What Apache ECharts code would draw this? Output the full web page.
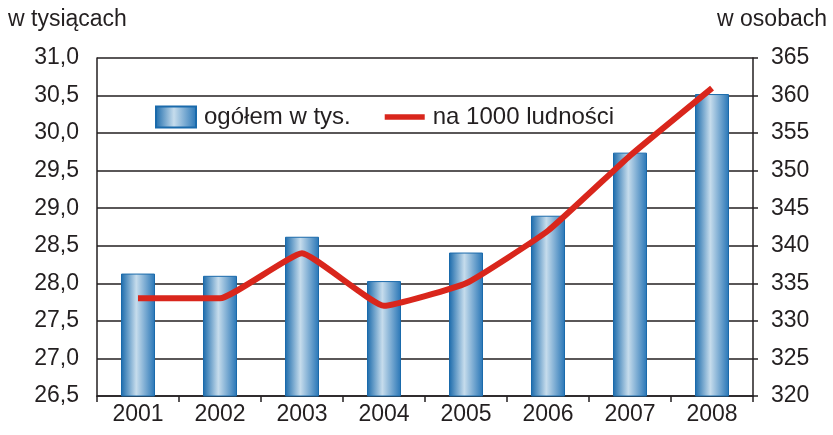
<!DOCTYPE html>
<html>
<head>
<meta charset="utf-8">
<script src="https://cdn.jsdelivr.net/npm/echarts@6/dist/echarts.min.js"></script>
<style>
  html, body { margin: 0; padding: 0; background: #fff; }
  #main { width: 833px; height: 435px; }
</style>
</head>
<body>
<div id="main"></div>
<script>
const years = ['2001', '2002', '2003', '2004', '2005', '2006', '2007', '2008'];
// ogółem w tysiącach (lewa oś)
const totalThousands = [28.13, 28.10, 28.62, 28.03, 28.41, 28.90, 29.74, 30.52];
// na 1000 ludności (prawa oś)
const per1000 = [333, 333, 339, 332, 335, 342, 352, 361];

const chart = echarts.init(document.querySelector('#main'));
const fontFamily = '"Liberation Sans", Arial, sans-serif';
const ink = '#231f20';
const fs = 23;

const barGradient = new echarts.graphic.LinearGradient(0, 0, 1, 0, [
    { offset: 0, color: '#1a6aab' },
    { offset: 0.45, color: '#c6dcec' },
    { offset: 1, color: '#2775b6' }
]);

const option = {
    animation: false,
    textStyle: { fontFamily: fontFamily },
    grid: { left: 97, right: 80, top: 58, bottom: 39 },
    graphic: [
        { type: 'text', left: 8, top: 8, style: { text: 'w tysiącach', font: fs + 'px ' + fontFamily, fill: ink } },
        { type: 'text', right: 6, top: 8, style: { text: 'w osobach', font: fs + 'px ' + fontFamily, fill: ink } }
    ],
    legend: {
        left: 150,
        top: 100,
        itemWidth: 40,
        itemHeight: 21,
        itemGap: 34,
        textStyle: { fontSize: 24, color: ink, fontFamily: fontFamily, padding: [0, 0, 0, 3] },
        data: [
            { name: 'ogółem w tys.', icon: 'rect' },
            { name: 'na 1000 ludności', icon: 'path://M0,0H42V6H0Z' }
        ]
    },
    xAxis: {
        type: 'category',
        data: years,
        axisLine: { lineStyle: { color: ink, width: 1.5 } },
        axisTick: { show: true, inside: false, length: 6, lineStyle: { color: ink, width: 1.5 } },
        axisLabel: { fontSize: fs, color: ink, margin: 7 }
    },
    yAxis: [
        {
            type: 'value',
            min: 26.5,
            max: 31,
            interval: 0.5,
            axisLine: { show: true, lineStyle: { color: ink, width: 1.5 } },
            axisTick: { show: false },
            axisLabel: {
                fontSize: fs, color: ink, margin: 18,
                formatter: v => v.toFixed(1).replace('.', ',')
            },
            splitLine: { lineStyle: { color: ink, width: 1.5 } }
        },
        {
            type: 'value',
            min: 320,
            max: 365,
            interval: 5,
            position: 'right',
            axisLine: { show: true, lineStyle: { color: ink, width: 1.5 } },
            axisTick: { show: true, length: 5, lineStyle: { color: ink, width: 1.5 } },
            axisLabel: { fontSize: fs, color: ink, margin: 18 },
            splitLine: { show: false }
        }
    ],
    series: [
        {
            name: 'ogółem w tys.',
            type: 'bar',
            data: totalThousands,
            barWidth: 34,
            itemStyle: { color: barGradient, borderColor: '#1a6aab', borderWidth: 1 }
        },
        {
            name: 'na 1000 ludności',
            type: 'line',
            yAxisIndex: 1,
            data: per1000,
            smooth: 0.12,
            symbol: 'none',
            lineStyle: { color: '#d9261c', width: 6 },
            itemStyle: { color: '#d9261c' }
        }
    ]
};
chart.setOption(option);
</script>
</body>
</html>
